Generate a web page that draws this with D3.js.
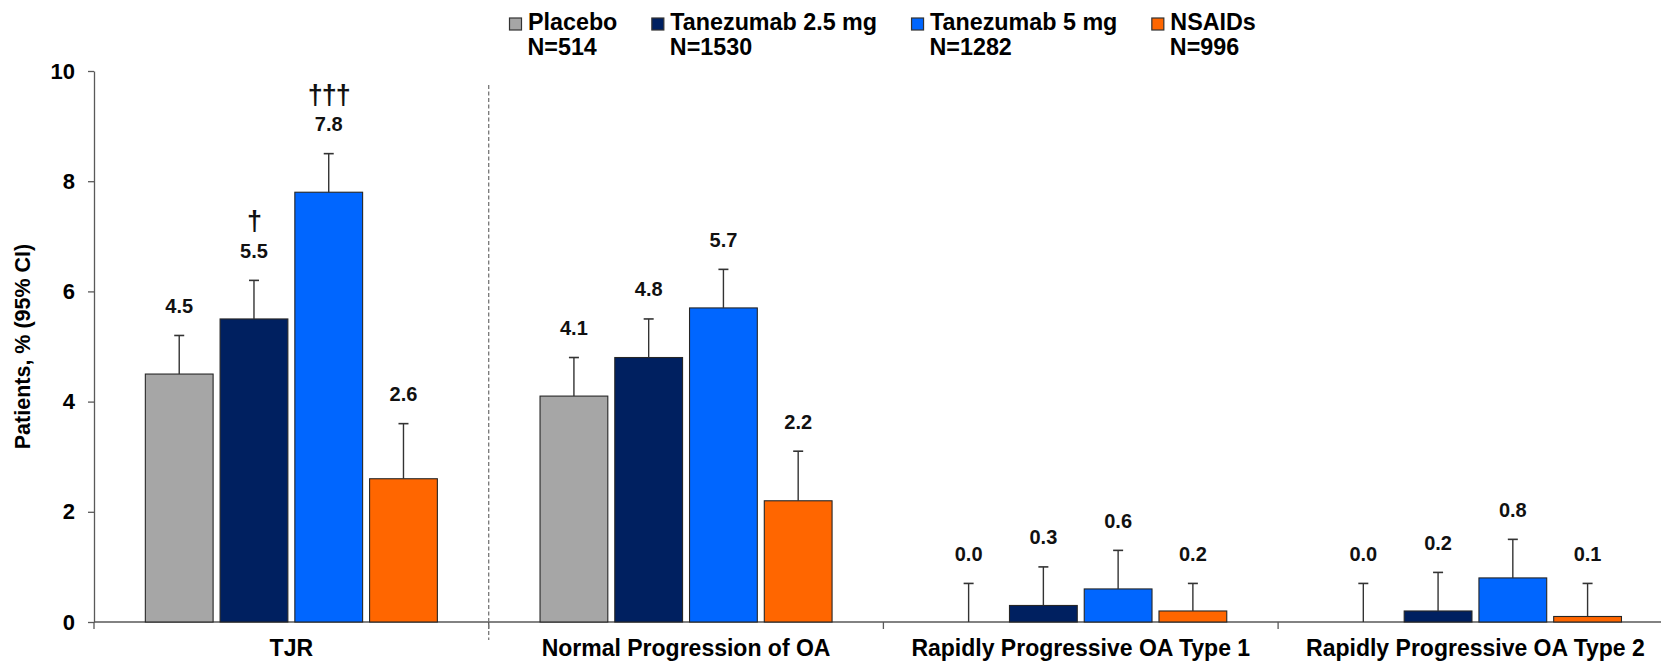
<!DOCTYPE html>
<html>
<head>
<meta charset="utf-8">
<script src="https://cdn.jsdelivr.net/npm/d3@7"></script>
<style>
  html, body { margin: 0; padding: 0; background: #fff; }
  svg { display: block; font-family: "Liberation Sans", Arial, sans-serif; }
</style>
</head>
<body>
<svg id="chart" width="1661" height="662"></svg>
<script>
// ---- data ----
const categories = ["TJR", "Normal Progression of OA", "Rapidly Progressive OA Type 1", "Rapidly Progressive OA Type 2"];
const seriesNames = ["Placebo", "Tanezumab 2.5 mg", "Tanezumab 5 mg", "NSAIDs"];
const seriesN = ["N=514", "N=1530", "N=1282", "N=996"];
const seriesColors = ["#A6A6A6", "#002060", "#0066FF", "#FF6600"];

const placeboValues = [4.5, 4.1, 0.0, 0.0];
const tan25Values   = [5.5, 4.8, 0.3, 0.2];
const tan5Values    = [7.8, 5.7, 0.6, 0.8];
const nsaidValues   = [2.6, 2.2, 0.2, 0.1];

const placeboUpper = [5.2, 4.8, 0.7, 0.7];
const tan25Upper   = [6.2, 5.5, 1.0, 0.9];
const tan5Upper    = [8.5, 6.4, 1.3, 1.5];
const nsaidUpper   = [3.6, 3.1, 0.7, 0.7];

const placeboMarks = ["", "", "", ""];
const tan25Marks   = ["\u2020", "", "", ""];
const tan5Marks    = ["\u2020\u2020\u2020", "", "", ""];
const nsaidMarks   = ["", "", "", ""];

const yTicks = [0, 2, 4, 6, 8, 10];
const yTitle = "Patients, % (95% CI)";

// ---- build table ----
const valuesBySeries = [placeboValues, tan25Values, tan5Values, nsaidValues];
const upperBySeries = [placeboUpper, tan25Upper, tan5Upper, nsaidUpper];
const marksBySeries = [placeboMarks, tan25Marks, tan5Marks, nsaidMarks];
const rows = [];
categories.forEach((c, ci) => {
  seriesNames.forEach((s, si) => {
    rows.push({cat: c, series: s, si, value: valuesBySeries[si][ci], upper: upperBySeries[si][ci], mark: marksBySeries[si][ci]});
  });
});

// ---- layout ----
const svg = d3.select("#chart");
const x0 = d3.scaleBand().domain(categories).range([94, 94 + 4 * 394.7]).padding(0);
const x1 = d3.scaleBand().domain(seriesNames).range([0, x0.bandwidth()]).paddingInner(0.0933).paddingOuter(0.6867);
const y = d3.scaleLinear().domain([0, 10]).range([622, 71]);
const color = d3.scaleOrdinal().domain(seriesNames).range(seriesColors);
const axisColor = "#595959";

// y axis
const yAxis = d3.axisLeft(y).tickValues(yTicks).tickSize(6).tickSizeOuter(0).tickPadding(13).tickFormat(d3.format("d"));
const gy = svg.append("g").attr("transform", "translate(94,0)").call(yAxis);
gy.select(".domain").attr("stroke", axisColor).attr("stroke-width", 1.3);
gy.selectAll(".tick line").attr("stroke", axisColor).attr("stroke-width", 1.3);
gy.selectAll(".tick text").attr("font-size", 22).attr("font-weight", "bold").attr("fill", "#000")
  .attr("font-family", "'Liberation Sans', Arial, sans-serif");

// y title
svg.append("text")
  .attr("transform", `translate(30,${(y(0) + y(10)) / 2}) rotate(-90)`)
  .attr("text-anchor", "middle")
  .attr("font-size", 21.5).attr("font-weight", "bold").attr("fill", "#000")
  .text(yTitle);

// x axis baseline
svg.append("line").attr("x1", 94).attr("x2", 1661).attr("y1", y(0)).attr("y2", y(0))
  .attr("stroke", axisColor).attr("stroke-width", 1.3);
// category boundary ticks
const bounds = categories.map(c => x0(c));
svg.selectAll(".ctick").data(bounds).enter().append("line")
  .attr("x1", d => d).attr("x2", d => d).attr("y1", y(0)).attr("y2", y(0) + 7)
  .attr("stroke", axisColor).attr("stroke-width", 1.3);

// dashed separator after TJR
svg.append("line")
  .attr("x1", x0(categories[1])).attr("x2", x0(categories[1]))
  .attr("y1", 85).attr("y2", 640)
  .attr("stroke", "#777").attr("stroke-width", 1.3).attr("stroke-dasharray", "4,2.5");

// category labels
svg.selectAll(".clabel").data(categories).enter().append("text")
  .attr("x", d => x0(d) + x0.bandwidth() / 2).attr("y", 656)
  .attr("text-anchor", "middle").attr("font-size", 23).attr("font-weight", "bold").attr("fill", "#000")
  .text(d => d);

// bars
const g = svg.append("g");
const bx = d => x0(d.cat) + x1(d.series);
g.selectAll("rect").data(rows.filter(d => d.value > 0)).enter().append("rect")
  .attr("x", bx).attr("y", d => y(d.value))
  .attr("width", x1.bandwidth()).attr("height", d => y(0) - y(d.value))
  .attr("fill", d => color(d.series)).attr("stroke", "#262626").attr("stroke-width", 1.1);

// error bars (upper only)
const cx = d => bx(d) + x1.bandwidth() / 2;
g.selectAll(".err").data(rows).enter().append("line")
  .attr("x1", cx).attr("x2", cx).attr("y1", d => y(d.value)).attr("y2", d => y(d.upper))
  .attr("stroke", "#333").attr("stroke-width", 1.4);
g.selectAll(".cap").data(rows).enter().append("line")
  .attr("x1", d => cx(d) - 5).attr("x2", d => cx(d) + 5).attr("y1", d => y(d.upper)).attr("y2", d => y(d.upper))
  .attr("stroke", "#333").attr("stroke-width", 1.6);

// value labels
g.selectAll(".vlabel").data(rows).enter().append("text")
  .attr("x", cx).attr("y", d => y(d.upper) - 22.5)
  .attr("text-anchor", "middle").attr("font-size", 20).attr("font-weight", "bold").attr("fill", "#111")
  .text(d => d3.format(".1f")(d.value));

// significance markers
g.selectAll(".mark").data(rows.filter(d => d.mark)).enter().append("text")
  .attr("x", cx).attr("y", d => y(d.upper) - 50)
  .attr("text-anchor", "middle").attr("font-size", 27).attr("font-weight", "bold").attr("fill", "#111")
  .attr("letter-spacing", -1)
  .text(d => d.mark);

// legend
const leg = svg.append("g");
let lx = 509.5;
seriesNames.forEach((s, i) => {
  const item = leg.append("g");
  item.append("rect").attr("x", lx).attr("y", 18).attr("width", 12).attr("height", 12)
    .attr("fill", seriesColors[i]).attr("stroke", "#333").attr("stroke-width", 1.2);
  const t1 = item.append("text").attr("x", lx + 18.5).attr("y", 29.5)
    .attr("font-size", 23.3).attr("font-weight", "bold").attr("fill", "#000").text(s);
  item.append("text").attr("x", lx + 18).attr("y", 55)
    .attr("font-size", 23.3).attr("font-weight", "bold").attr("fill", "#000").text(seriesN[i]);
  const w = t1.node().getComputedTextLength();
  lx = lx + 18.5 + w + 34.5;
});
</script>
</body>
</html>
